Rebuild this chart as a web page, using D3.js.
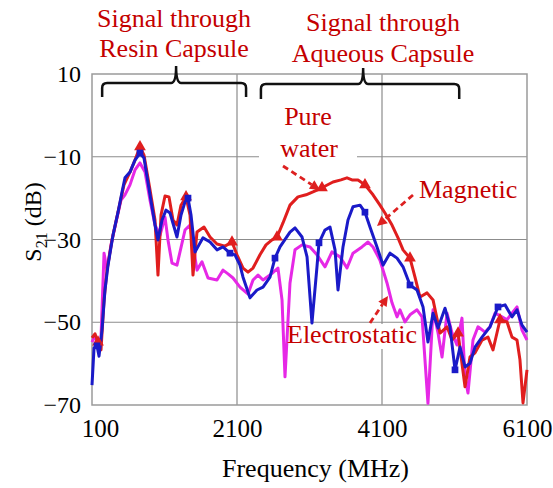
<!DOCTYPE html>
<html>
<head>
<meta charset="utf-8">
<script src="https://cdn.jsdelivr.net/npm/d3@7"></script>
<style>
  body { margin: 0; background: #fff; }
  svg text { font-family: "Liberation Serif", "Times New Roman", serif; }
</style>
</head>
<body>
<div id="app"></div>
<script>
// [frequency MHz, S21 dB]
const pureWater = [
  [100,-53.8],[141,-52.8],[183,-54.8],[224,-56.7],[266,-44.6],[307,-37.4],[376,-30.1],[459,-23.4],
  [541,-16.8],[624,-13.7],[693,-10.8],[762,-7.6],[817,-9.6],[900,-18.0],[969,-25.3],[1010,-38.6],
  [1052,-24.1],[1107,-19.5],[1162,-19.7],[1217,-25.3],[1272,-26.5],[1328,-21.7],[1397,-19.7],[1452,-24.1],
  [1493,-38.6],[1548,-28.2],[1645,-27.0],[1728,-29.4],[1824,-31.1],[1934,-31.6],[2031,-30.6],[2100,-33.7],
  [2183,-36.9],[2252,-37.9],[2321,-36.9],[2417,-33.7],[2500,-31.3],[2583,-30.1],[2652,-29.4],[2734,-26.0],
  [2831,-21.7],[2941,-19.7],[3052,-19.2],[3148,-18.5],[3272,-17.5],[3424,-16.1],[3534,-15.6],[3617,-15.1],
  [3686,-15.6],[3769,-15.6],[3865,-16.8],[3976,-19.2],[4072,-21.7],[4141,-23.6],[4238,-26.5],[4321,-29.6],
  [4390,-32.5],[4486,-34.5],[4555,-39.1],[4624,-43.9],[4721,-42.9],[4804,-44.6],[4900,-52.6],[4997,-51.1],
  [5066,-54.3],[5149,-52.6],[5245,-65.6],[5314,-58.4],[5383,-57.4],[5480,-54.3],[5562,-53.6],[5631,-56.7],
  [5728,-49.4],[5824,-49.9],[5893,-53.6],[5962,-54.3],[6003,-59.1],[6045,-69.5],[6100,-61.5]
];

const magnetic = [
  [100,-65.2],[128,-56.2],[169,-55.7],[197,-58.2],[238,-51.9],[279,-42.2],[321,-36.2],[390,-28.9],
  [459,-23.4],[514,-18.5],[555,-15.1],[624,-13.7],[693,-10.8],[762,-9.1],[817,-10.3],[900,-19.2],
  [969,-26.5],[1010,-30.1],[1066,-25.3],[1121,-22.9],[1176,-23.6],[1272,-29.4],[1328,-24.1],[1383,-20.9],
  [1424,-20.0],[1466,-24.1],[1521,-33.0],[1576,-31.3],[1631,-29.6],[1728,-30.6],[1824,-32.5],[1907,-31.8],
  [2003,-33.3],[2072,-33.7],[2141,-36.2],[2183,-39.1],[2279,-44.1],[2376,-42.2],[2459,-41.5],[2555,-39.1],
  [2624,-34.5],[2693,-31.8],[2831,-28.2],[2900,-27.2],[2997,-29.4],[3066,-34.2],[3134,-50.2],[3203,-36.6],
  [3231,-30.8],[3314,-27.7],[3383,-27.0],[3452,-32.5],[3493,-42.2],[3562,-31.8],[3631,-25.3],[3700,-22.1],
  [3797,-21.7],[3865,-23.4],[3934,-27.0],[4031,-31.8],[4114,-36.2],[4210,-33.3],[4307,-34.5],[4390,-36.6],
  [4486,-41.0],[4583,-42.2],[4666,-46.3],[4734,-54.8],[4804,-47.8],[4873,-51.4],[4969,-46.6],[5038,-51.1],
  [5107,-61.5],[5176,-56.0],[5245,-60.8],[5314,-59.9],[5383,-56.0],[5480,-53.6],[5590,-51.1],[5700,-46.3],
  [5797,-45.8],[5893,-48.7],[5962,-47.0],[6031,-50.7],[6100,-52.4]
];

const electrostatic = [
  [100,-54.8],[141,-53.3],[183,-55.3],[224,-53.8],[266,-33.3],[307,-37.4],[362,-31.3],[431,-25.8],
  [500,-20.5],[555,-19.2],[624,-16.8],[693,-13.2],[762,-11.5],[831,-13.7],[900,-20.5],[969,-26.5],
  [1038,-29.0],[1107,-24.6],[1148,-30.1],[1203,-35.7],[1272,-36.2],[1383,-27.7],[1452,-26.5],[1548,-37.4],
  [1617,-35.4],[1700,-39.3],[1824,-39.8],[1907,-37.4],[1976,-38.3],[2045,-39.3],[2141,-41.5],[2252,-43.2],
  [2321,-39.8],[2390,-38.6],[2459,-39.8],[2555,-38.6],[2665,-36.9],[2721,-44.6],[2762,-63.2],[2831,-40.5],
  [2900,-32.5],[2997,-31.3],[3107,-31.8],[3203,-33.7],[3314,-36.6],[3410,-33.0],[3521,-34.2],[3617,-36.9],
  [3700,-33.3],[3824,-31.8],[3907,-30.6],[3976,-31.8],[4072,-35.0],[4169,-40.5],[4238,-45.3],[4307,-48.7],
  [4348,-47.0],[4417,-49.9],[4486,-48.2],[4583,-47.0],[4652,-48.7],[4734,-69.6],[4804,-47.0],[4873,-52.6],
  [4928,-58.4],[4997,-47.8],[5066,-52.6],[5134,-55.5],[5203,-49.0],[5245,-63.2],[5286,-67.1],[5355,-54.3],
  [5424,-51.1],[5521,-52.4],[5590,-51.1],[5659,-47.8],[5755,-48.7],[5824,-49.4],[5893,-47.8],[5962,-46.3],
  [6031,-51.9],[6100,-54.3]
];

const markerFreqs = [170, 760, 1410, 2030, 2620, 3230, 3860, 4490, 5110, 5700];
const xTicks = [100, 2100, 4100, 6100];
const yTicks = [10, -10, -30, -50, -70];

const width = 553, height = 488;
const plot = {left: 92, right: 527, top: 74, bottom: 405};

const RED = '#e01e1e', BLUE = '#1a1ac8', MAGENTA = '#e628e6', NOTE = '#c40000';

const x = d3.scaleLinear().domain([100, 6100]).range([plot.left, plot.right]);
const y = d3.scaleLinear().domain([-70, 10]).range([plot.bottom, plot.top]);

const svg = d3.select('#app').append('svg')
    .attr('width', width)
    .attr('height', height)
    .style('background', '#fff');

// grid
svg.append('g')
    .selectAll('line.vgrid')
    .data(xTicks.slice(1, -1))
  .enter().append('line')
    .attr('x1', d => x(d)).attr('x2', d => x(d))
    .attr('y1', plot.top).attr('y2', plot.bottom)
    .attr('stroke', '#8c8c8c').attr('stroke-width', 1.2);

svg.append('g')
    .selectAll('line.hgrid')
    .data(yTicks.slice(1, -1))
  .enter().append('line')
    .attr('x1', plot.left).attr('x2', plot.right)
    .attr('y1', d => y(d)).attr('y2', d => y(d))
    .attr('stroke', '#8c8c8c').attr('stroke-width', 1.2);

svg.append('rect')
    .attr('x', plot.left).attr('y', plot.top)
    .attr('width', plot.right - plot.left).attr('height', plot.bottom - plot.top)
    .attr('fill', 'none').attr('stroke', '#9a9a9a').attr('stroke-width', 1.5);

// axes
const xAxis = svg.append('g')
    .attr('transform', `translate(0, ${plot.bottom})`)
    .call(d3.axisBottom(x).tickValues(xTicks).tickSize(0).tickPadding(14).tickFormat(d3.format('d')));
xAxis.select('.domain').remove();
xAxis.selectAll('text')
    .attr('font-size', 25).attr('fill', '#000')
    .attr('font-family', '"Liberation Serif", serif')
    .attr('dx', d => d === 100 ? 8 : 0);

const yAxis = svg.append('g')
    .attr('transform', `translate(${plot.left}, 0)`)
    .call(d3.axisLeft(y).tickValues(yTicks).tickSize(0).tickPadding(11));
yAxis.select('.domain').remove();
yAxis.selectAll('text')
    .attr('font-size', 24).attr('fill', '#000')
    .attr('font-family', '"Liberation Serif", serif');

svg.append('text')
    .attr('x', (plot.left + plot.right) / 2 + 6)
    .attr('y', 477)
    .attr('text-anchor', 'middle')
    .attr('font-size', 26)
    .text('Frequency (MHz)');

const ylab = svg.append('text')
    .attr('transform', 'translate(41, 222) rotate(-90)')
    .attr('text-anchor', 'middle')
    .attr('font-size', 24);
ylab.append('tspan').text('S');
ylab.append('tspan').attr('font-size', 16).attr('dy', 6).text('21');
ylab.append('tspan').attr('dy', -6).text(' (dB)');

// white boxes behind the in-plot notes
svg.append('rect').attr('x', 259).attr('y', 102).attr('width', 98).attr('height', 62).attr('fill', '#fff');
svg.append('rect').attr('x', 285).attr('y', 324).attr('width', 136).attr('height', 25).attr('fill', '#fff');

// series
const line = d3.line().x(d => x(d[0])).y(d => y(d[1]));
const series = [
  {data: electrostatic, color: MAGENTA, marker: null},
  {data: pureWater, color: RED, marker: 'triangle'},
  {data: magnetic, color: BLUE, marker: 'square'}
];

series.forEach(s => {
  svg.append('path')
      .datum(s.data)
      .attr('fill', 'none')
      .attr('stroke', s.color)
      .attr('stroke-width', 3)
      .attr('stroke-linejoin', 'round')
      .attr('d', line);
});

series.forEach(s => {
  if (!s.marker) return;
  const pts = markerFreqs.map(f => d3.least(s.data, d => Math.abs(d[0] - f)));
  const sym = d3.symbol().type(s.marker === 'square' ? d3.symbolSquare : d3.symbolTriangle)
      .size(s.marker === 'square' ? 45 : 60);
  svg.append('g').selectAll('path')
      .data(pts)
    .enter().append('path')
      .attr('transform', d => `translate(${x(d[0])}, ${y(d[1])})`)
      .attr('fill', s.color)
      .attr('d', sym);
});

// braces
function brace(x0, x1, xm, yLine, yEnd, yTip) {
  const r = 5;
  return `M${x0},${yEnd} L${x0},${yLine + r} Q${x0},${yLine} ${x0 + r},${yLine}` +
    ` L${xm - r},${yLine} Q${xm},${yLine} ${xm},${yTip}` +
    ` Q${xm},${yLine} ${xm + r},${yLine} L${x1 - r},${yLine} Q${x1},${yLine} ${x1},${yLine + r} L${x1},${yEnd}`;
}
svg.append('path')
    .attr('d', brace(x(240), x(2225), x(1260), 83, 97, 66))
    .attr('fill', 'none').attr('stroke', '#111').attr('stroke-width', 2.5);
svg.append('path')
    .attr('d', brace(x(2430), x(5165), x(3840), 84, 99, 68))
    .attr('fill', 'none').attr('stroke', '#111').attr('stroke-width', 2.5);

// notes
const notes = [
  {text: 'Signal through', x: 174, y: 27, anchor: 'middle'},
  {text: 'Resin Capsule', x: 174, y: 57, anchor: 'middle'},
  {text: 'Signal through', x: 383, y: 31, anchor: 'middle'},
  {text: 'Aqueous Capsule', x: 383, y: 62, anchor: 'middle'},
  {text: 'Pure', x: 308, y: 125, anchor: 'middle'},
  {text: 'water', x: 309, y: 157, anchor: 'middle'},
  {text: 'Magnetic', x: 419, y: 198, anchor: 'start'},
  {text: 'Electrostatic', x: 287, y: 343, anchor: 'start'}
];
svg.append('g').selectAll('text')
    .data(notes)
  .enter().append('text')
    .attr('x', d => d.x).attr('y', d => d.y)
    .attr('text-anchor', d => d.anchor)
    .attr('font-size', 26)
    .attr('fill', NOTE)
    .text(d => d.text);

// dashed arrows
const arrows = [
  [283, 166, 320, 190],
  [413, 195, 377, 226],
  [370, 323, 388, 296]
];
arrows.forEach(([x1, y1, x2, y2]) => {
  const a = Math.atan2(y2 - y1, x2 - x1), L = 10, W = 5;
  const bx = x2 - L * Math.cos(a), by = y2 - L * Math.sin(a);
  svg.append('line')
      .attr('x1', x1).attr('y1', y1).attr('x2', bx).attr('y2', by)
      .attr('stroke', '#dd2020').attr('stroke-width', 2.8).attr('stroke-dasharray', '6,4');
  svg.append('path')
      .attr('d', `M${x2},${y2} L${bx + W * Math.sin(a)},${by - W * Math.cos(a)} L${bx - W * Math.sin(a)},${by + W * Math.cos(a)} Z`)
      .attr('fill', '#dd2020');
});
</script>
</body>
</html>
